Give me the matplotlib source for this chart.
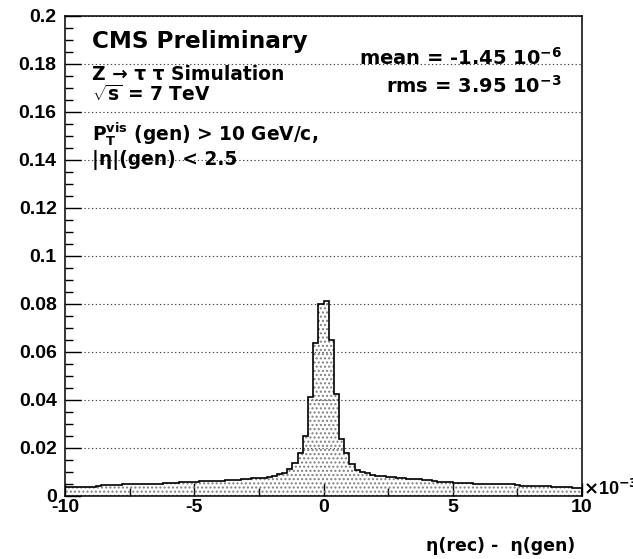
import numpy as np
import matplotlib
matplotlib.use("Agg")
import matplotlib.pyplot as plt
from matplotlib.ticker import MultipleLocator, FormatStrFormatter

# ---------------------------------------------------------------------------
# Data, x in units of 1e-3
# ---------------------------------------------------------------------------

x_min, x_max, n_bins = -10.0, 10.0, 100

fractions = [
    0.0039, 0.0038, 0.0039, 0.0039, 0.0038, 0.0039, 0.0040,
    0.0044, 0.0044, 0.0045, 0.0045,
    0.0048, 0.0049, 0.0049, 0.0050, 0.0050, 0.0051, 0.0051, 0.0052,
    0.0055, 0.0056, 0.0056, 0.0057, 0.0057,
    0.0060, 0.0060, 0.0061, 0.0061, 0.0062, 0.0062, 0.0063,
    0.0066, 0.0067, 0.0067,
    0.0071, 0.0072, 0.0073, 0.0073,
    0.0077, 0.0080, 0.0085, 0.0090, 0.0097, 0.0111, 0.0139, 0.0178,
    0.0251, 0.0412, 0.0638, 0.0800,
    0.0811, 0.0649, 0.0426, 0.0236, 0.0178, 0.0133, 0.0110, 0.0101,
    0.0094, 0.0089, 0.0084, 0.0082,
    0.0078, 0.0078, 0.0077, 0.0077,
    0.0070, 0.0069, 0.0069,
    0.0066, 0.0065, 0.0064,
    0.0059, 0.0058, 0.0058,
    0.0054, 0.0053, 0.0053, 0.0053, 0.0052, 0.0052,
    0.0049, 0.0049, 0.0048, 0.0049, 0.0048, 0.0048,
    0.0044, 0.0043, 0.0043, 0.0043, 0.0042,
    0.0040, 0.0041, 0.0039,
    0.0037, 0.0038, 0.0036,
    0.0035, 0.0035,
]

info_lines = [
    "Z \u2192 \u03c4 \u03c4 Simulation",
    r"$\sqrt{\mathrm{s}}$ = 7 TeV",
    r"P$_{\mathrm{T}}^{\mathrm{vis}}$ (gen) > 10 GeV/c,",
    "|\u03b7|(gen) < 2.5",
]
mean_text = r"mean = -1.45 10$^{\mathrm{-6}}$"
rms_text = r"rms = 3.95 10$^{\mathrm{-3}}$"

# ---------------------------------------------------------------------------
# Style
# ---------------------------------------------------------------------------

plt.rcParams["font.family"] = ["Liberation Sans", "DejaVu Sans"]
plt.rcParams["font.weight"] = "bold"
plt.rcParams["mathtext.fontset"] = "custom"
plt.rcParams["mathtext.rm"] = "DejaVu Sans:bold"
plt.rcParams["mathtext.it"] = "DejaVu Sans:bold"
plt.rcParams["mathtext.bf"] = "DejaVu Sans:bold"
plt.rcParams["mathtext.default"] = "rm"
plt.rcParams["hatch.linewidth"] = 1.0

ann_font = ["DejaVu Sans"]

edges = np.linspace(x_min, x_max, n_bins + 1)

fig = plt.figure(figsize=(6.33, 5.59), dpi=100)
ax = fig.add_axes([65 / 633, 63 / 559, 517 / 633, 480 / 559])

ax.yaxis.grid(True, color="#444444", linewidth=0.8, linestyle=(0, (1.2, 2.2)))
ax.set_axisbelow(True)

ax.stairs(fractions, edges, baseline=0, fill=True, facecolor="none",
          edgecolor="#808080", hatch="....", linewidth=0)
ax.stairs(fractions, edges, baseline=0, color="black", linewidth=1.2)

ax.set_xlim(x_min, x_max)
ax.set_ylim(0, 0.2)

ax.xaxis.set_major_locator(MultipleLocator(5))
ax.xaxis.set_minor_locator(MultipleLocator(2.5))
ax.yaxis.set_major_locator(MultipleLocator(0.02))
ax.yaxis.set_minor_locator(MultipleLocator(0.005))
ax.yaxis.set_major_formatter(FormatStrFormatter("%g"))
ax.xaxis.set_major_formatter(FormatStrFormatter("%g"))

ax.tick_params(axis="both", which="both", direction="in", labelsize=14,
               top=False, right=False)
ax.tick_params(axis="y", which="major", length=11.5, width=1.0, pad=6)
ax.tick_params(axis="y", which="minor", length=5.8, width=1.0)
ax.tick_params(axis="x", which="major", length=9.5, width=1.0, pad=2)
ax.tick_params(axis="x", which="minor", length=5.5, width=1.0)
for lab in ax.get_xticklabels() + ax.get_yticklabels():
    lab.set_fontweight("bold")
for sp in ax.spines.values():
    sp.set_linewidth(1.1)

# text
fig.text(92 / 633, 1 - 48 / 559, "CMS Preliminary", family=ann_font,
         fontsize=16.7, fontweight="bold", ha="left", va="baseline")
ys = [80, 101, 141, 165]
for line, y in zip(info_lines, ys):
    fig.text(92 / 633, 1 - y / 559, line, family=ann_font, fontsize=13.4,
             fontweight="bold", ha="left", va="baseline")
fig.text(562 / 633, 1 - 65 / 559, mean_text, family=ann_font, fontsize=14,
         fontweight="bold", ha="right", va="baseline")
fig.text(562 / 633, 1 - 93 / 559, rms_text, family=ann_font, fontsize=14,
         fontweight="bold", ha="right", va="baseline")

fig.text(583 / 633, 1 - 495 / 559, r"$\times$10$^{\mathrm{-3}}$", fontsize=13,
         fontweight="bold", ha="left", va="baseline")
fig.text(575 / 633, 1 - 551 / 559, "\u03b7(rec) -  \u03b7(gen)",
         family=ann_font, fontsize=12.5, fontweight="bold",
         ha="right", va="baseline")

fig.savefig("out.png", dpi=100)
